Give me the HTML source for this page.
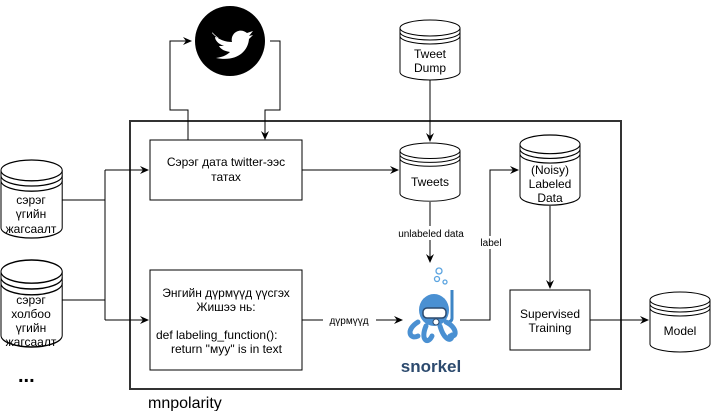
<!DOCTYPE html>
<html><head><meta charset="utf-8"><style>
body{margin:0;background:#fff;}
svg text{font-family:"Liberation Sans",sans-serif;}
</style></head><body>
<svg width="711" height="411" viewBox="0 0 711 411" xmlns="http://www.w3.org/2000/svg">
<defs>
<marker id="a" markerWidth="10" markerHeight="10" refX="8" refY="5" orient="auto" markerUnits="userSpaceOnUse"><path d="M0,1 L9,5 L0,9 L3,5 Z" fill="#000"/></marker>
<g id="cyl">
<path d="M0,8 L0,52 A30,8 0 0 0 60,52 L60,8" fill="#fff" stroke="#000" stroke-width="1"/>
<ellipse cx="30" cy="8" rx="30" ry="8" fill="#fff" stroke="#000"/>
<path d="M0,12 A30,8 0 0 0 60,12 M0,16 A30,8 0 0 0 60,16" fill="none" stroke="#000"/>
</g>
</defs>
<!-- frame -->
<rect x="130" y="121" width="491" height="268" fill="none" stroke="#333" stroke-width="2"/>
<text x="148" y="408" font-size="16">mnpolarity</text>

<!-- twitter -->
<circle cx="230" cy="41" r="35" fill="#000"/>
<path d="M212,33 C218,40 226,42 232,42 C230,33 240,27 247,33 L253,31 L249,36 L253,35 L249,39 C248,52 236,62 216,58 C224,57 228,54 230,52 C223,51 220,48 219,46 L224,46 C218,44 215,40 215,37 L219,38 C214,35 212,31 212,33 Z" fill="#fff"/>

<!-- cylinders left -->
<g transform="translate(1,160) scale(1.02,1.3)"><use href="#cyl"/></g>
<text font-size="12" text-anchor="middle"><tspan x="31" y="204">сэрэг</tspan><tspan x="31" y="218">үгийн</tspan><tspan x="31" y="233">жагсаалт</tspan></text>
<g transform="translate(1,260) scale(1.02,1.45)"><use href="#cyl"/></g>
<text font-size="12" text-anchor="middle"><tspan x="31" y="304">сэрэг</tspan><tspan x="31" y="318">холбоо</tspan><tspan x="31" y="332">үгийн</tspan><tspan x="31" y="346">жагсаалт</tspan></text>
<text x="18" y="382" font-size="20" font-weight="bold">...</text>

<!-- left connectors -->
<path d="M62,200 H105 M62,300 H105 M105,170 V320" stroke="#000" fill="none"/>
<path d="M105,170 H148" stroke="#000" marker-end="url(#a)"/>
<path d="M105,320 H148" stroke="#000" marker-end="url(#a)"/>

<!-- boxes -->
<rect x="150" y="140" width="152" height="60" fill="#fff" stroke="#000"/>
<text font-size="12" text-anchor="middle"><tspan x="226" y="166">Сэрэг дата twitter-ээс</tspan><tspan x="226" y="181">татах</tspan></text>
<rect x="150" y="270" width="152" height="100" fill="#fff" stroke="#000"/>
<text font-size="12"><tspan x="226" y="297" text-anchor="middle">Энгийн дүрмүүд үүсгэх</tspan><tspan x="226" y="311" text-anchor="middle">Жишээ нь:</tspan><tspan x="156" y="339">def labeling_function():</tspan><tspan x="171" y="353">return "муу" is in text</tspan></text>

<!-- twitter loop -->
<path d="M188,140 V110 H170 V41 H191" stroke="#000" fill="none" marker-end="url(#a)"/>
<path d="M270,41 H280 V110 H265 V139" stroke="#000" fill="none" marker-end="url(#a)"/>

<!-- tweet dump & tweets -->
<g transform="translate(400,20)"><use href="#cyl"/></g>
<text font-size="12" text-anchor="middle"><tspan x="430" y="58">Tweet</tspan><tspan x="430" y="72">Dump</tspan></text>
<path d="M430,80 V141" stroke="#000" marker-end="url(#a)"/>
<g transform="translate(400,143) scale(1,0.97)"><use href="#cyl"/></g>
<text x="430" y="186" font-size="12" text-anchor="middle">Tweets</text>
<path d="M302,170 H398" stroke="#000" marker-end="url(#a)"/>
<path d="M430,202 V262" stroke="#000" marker-end="url(#a)"/>
<rect x="393" y="226" width="76" height="14" fill="#fff"/>
<text x="431" y="237" font-size="10" text-anchor="middle">unlabeled data</text>

<!-- snorkel -->
<circle cx="439" cy="271" r="3" fill="none" stroke="#5ba4e0" stroke-width="1.3"/>
<circle cx="437" cy="279" r="2.5" fill="none" stroke="#5ba4e0" stroke-width="1.3"/>
<circle cx="445" cy="282" r="2" fill="none" stroke="#5ba4e0" stroke-width="1.3"/>
<path d="M452,290 V318 Q452,322 447,322" stroke="#3d85c6" stroke-width="3" fill="none"/>
<path d="M418,322 C405,330 410,340 418,336 M426,326 C420,340 428,345 432,336 M440,326 C444,340 452,343 452,335 M446,322 C458,328 457,338 450,336" stroke="#4a90d2" stroke-width="5" fill="none" stroke-linecap="round"/>
<ellipse cx="434" cy="310" rx="15" ry="16" fill="#4a90d2"/>
<rect x="423" y="308" width="23" height="10" rx="4" fill="#fff" stroke="#2c4a6e" stroke-width="1.5"/>
<circle cx="436" cy="322" r="3" fill="#fff" stroke="#2c4a6e"/>
<text x="431" y="372" font-size="17" font-weight="bold" fill="#2c4a6e" text-anchor="middle">snorkel</text>
<path d="M302,320 H402" stroke="#000" marker-end="url(#a)"/>
<rect x="323" y="314" width="53" height="13" fill="#fff"/>
<text x="349" y="324" font-size="10" text-anchor="middle">дүрмүүд</text>

<!-- label path -->
<path d="M460,320 H490 V170 H518" stroke="#000" fill="none" marker-end="url(#a)"/>
<rect x="478" y="236" width="26" height="13" fill="#fff"/>
<text x="491" y="246" font-size="10" text-anchor="middle">label</text>

<!-- noisy -->
<g transform="translate(520,135) scale(1,1.17)"><use href="#cyl"/></g>
<text font-size="12" text-anchor="middle"><tspan x="550" y="174">(Noisy)</tspan><tspan x="550" y="188">Labeled</tspan><tspan x="550" y="202">Data</tspan></text>
<path d="M550,206 V288" stroke="#000" marker-end="url(#a)"/>
<rect x="510" y="290" width="80" height="60" fill="#fff" stroke="#000"/>
<text font-size="12" text-anchor="middle"><tspan x="550" y="318">Supervised</tspan><tspan x="550" y="332">Training</tspan></text>
<path d="M590,320 H648" stroke="#000" marker-end="url(#a)"/>
<g transform="translate(650,292)"><use href="#cyl"/></g>
<text x="680" y="335" font-size="12" text-anchor="middle">Model</text>
</svg>
</body></html>
